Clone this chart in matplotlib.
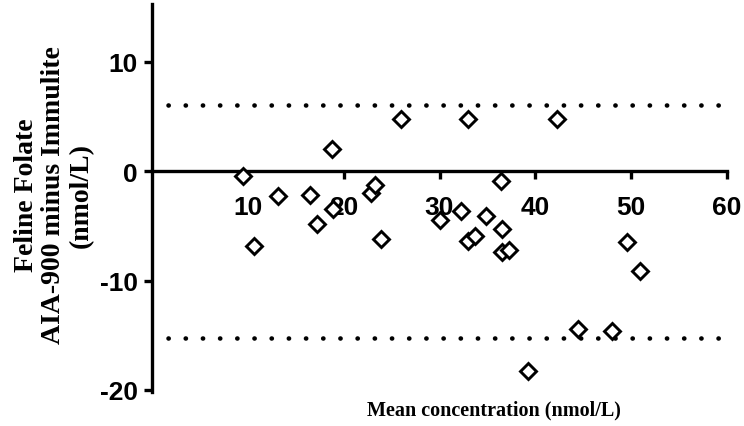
import matplotlib
matplotlib.use("Agg")
import matplotlib.pyplot as plt

plt.rcParams["axes.unicode_minus"] = False

# data
mean_conc = [9.5, 10.6, 13.1, 16.5, 18.8, 17.2, 18.9, 22.8, 23.3, 26.0, 23.9,
             33.0, 42.3, 36.4, 30.0, 32.2, 34.8, 36.5, 33.0, 33.7, 36.5, 37.2,
             49.6, 50.9, 44.5, 48.0, 39.2]
difference = [-0.4, -6.8, -2.3, -2.2, 2.0, -4.8, -3.5, -2.0, -1.3, 4.8, -6.2,
              4.8, 4.8, -0.9, -4.5, -3.6, -4.1, -5.3, -6.4, -5.9, -7.4, -7.2,
              -6.45, -9.1, -14.4, -14.6, -18.3]
limits = [6.1, -15.3]
limit_span = [1.7, 59.4]
xticks = [10, 20, 30, 40, 50, 60]
yticks = [10, 0, -10, -20]

fig = plt.figure(figsize=(7.44, 4.27), dpi=100)
ax = fig.add_axes([152 / 744, 34 / 427, 575 / 744, 388 / 427])

# limits of agreement (dotted)
for lim in limits:
    ax.plot(limit_span, [lim, lim], color="black", lw=3.3,
            linestyle=(0, (0.05, 3.7)), dash_capstyle="round", zorder=2)

ax.plot(mean_conc, difference, linestyle="none", marker="D", ms=7.8,
        mfc="white", mec="black", mew=2.1, zorder=3, clip_on=False)

ax.set_xlim(0, 60)
ax.set_ylim(-20.2, 15.3)

ax.spines["top"].set_visible(False)
ax.spines["right"].set_visible(False)
ax.spines["bottom"].set_position(("data", 0))
ax.spines["left"].set_position(("data", 0))
for s in ["bottom", "left"]:
    ax.spines[s].set_linewidth(2.4)
    ax.spines[s].set_capstyle("projecting")

ax.set_xticks(xticks)
ax.set_yticks(yticks)
ax.tick_params(axis="both", direction="out", length=6, width=2.4)
ax.tick_params(axis="x", pad=11)
ax.tick_params(axis="y", pad=4)
for lab in ax.get_xticklabels() + ax.get_yticklabels():
    lab.set_fontfamily("Liberation Sans")
    lab.set_fontweight("bold")
    lab.set_fontsize(19)

fig.text(494 / 744, 1 - 410 / 427, "Mean concentration (nmol/L)",
         ha="center", va="center", fontfamily="Liberation Serif",
         fontweight="bold", fontsize=14.5)
fig.text(54 / 744, 1 - 195 / 427, "Feline Folate\nAIA-900 minus Immulite\n(nmol/L)",
         ha="center", va="center", rotation=90, multialignment="center",
         fontfamily="Liberation Serif", fontweight="bold", fontsize=20,
         linespacing=1.15)

fig.savefig("out.png", dpi=100)
